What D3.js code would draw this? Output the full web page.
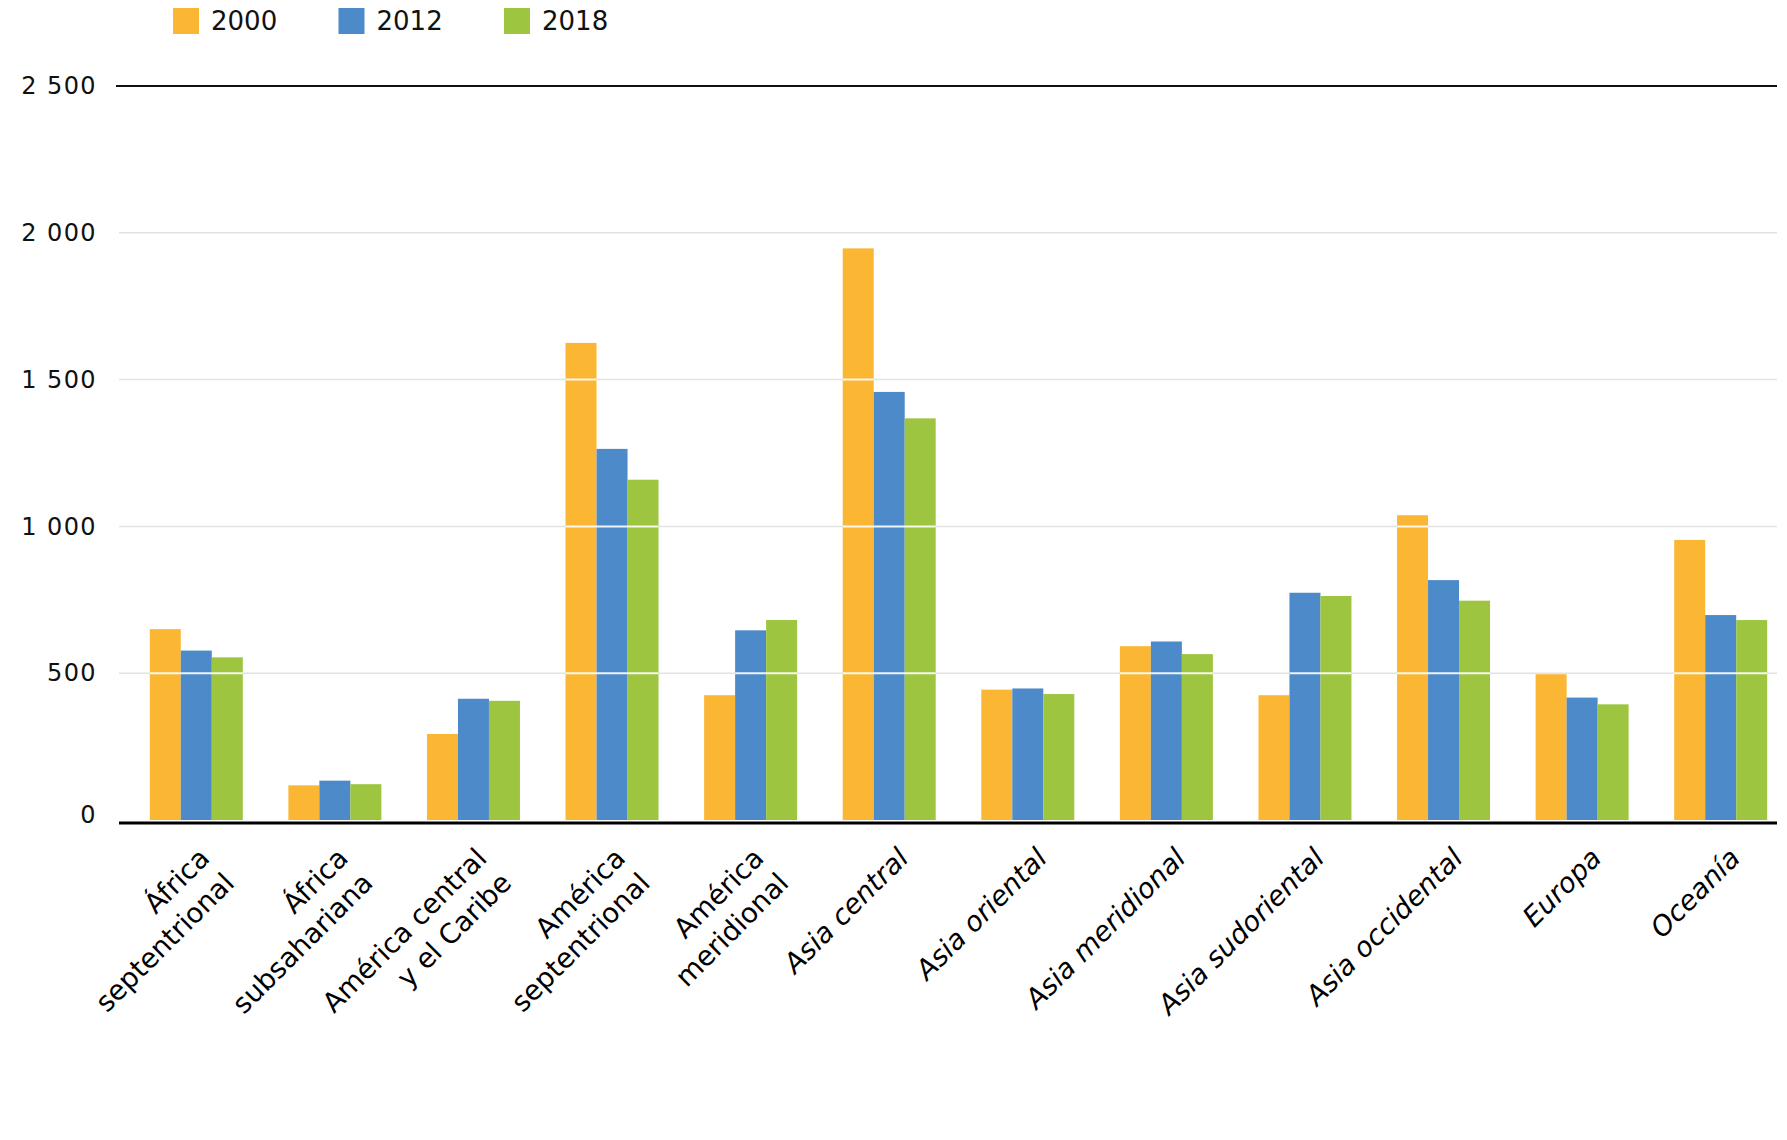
<!DOCTYPE html>
<html>
<head>
<meta charset="utf-8">
<script src="https://cdn.jsdelivr.net/npm/d3@7"></script>
<style>
  html, body { margin: 0; padding: 0; background: #fff; }
  svg { display: block; }
</style>
</head>
<body>
<svg id="chart" width="1787" height="1140"></svg>
<script>
// ---- data ----
const categories = [
  "África\nseptentrional",
  "África\nsubsahariana",
  "América central\ny el Caribe",
  "América\nseptentrional",
  "América\nmeridional",
  "Asia central",
  "Asia oriental",
  "Asia meridional",
  "Asia sudoriental",
  "Asia occidental",
  "Europa",
  "Oceanía"
];
const seriesNames = ["2000", "2012", "2018"];
const values2000 = [650, 118, 293, 1625, 425, 1947, 444, 592, 425, 1038, 499, 954];
const values2012 = [577, 134, 413, 1264, 646, 1458, 448, 608, 774, 817, 417, 698];
const values2018 = [554, 122, 406, 1159, 681, 1368, 429, 565, 763, 747, 394, 681];
const yTicks = [0, 500, 1000, 1500, 2000, 2500];
const italicCategories = ["Asia central", "Asia oriental", "Asia meridional", "Asia sudoriental", "Asia occidental", "Europa", "Oceanía"];

const colors = ["#FBB734", "#4C8ACA", "#9DC540"];
const seriesValues = [values2000, values2012, values2018];

// ---- layout ----
const svg = d3.select("#chart");
const gridLeft = 119, gridRight = 1777;

const x = d3.scaleBand()
  .domain(categories)
  .range([127, 1790])
  .paddingInner(0.329)
  .paddingOuter(0.1645);

const x1 = d3.scaleBand()
  .domain(seriesNames)
  .range([0, x.bandwidth()]);

const y = d3.scaleLinear()
  .domain([0, 2500])
  .range([820, 86]);

const fmt = v => d3.format(",")(v).replace(/,/g, " ");
const innerTicks = yTicks.filter(t => t > 0 && t < 2500);

const barData = [];
categories.forEach((c, i) => seriesNames.forEach((s, j) => barData.push({ c, s, j, v: seriesValues[j][i] })));

// clip path made of bars (for white gridline segments over bars)
const defs = svg.append("defs");
defs.append("clipPath").attr("id", "barsClip")
  .selectAll("rect")
  .data(barData)
  .join("rect")
  .attr("x", d => x(d.c) + x1(d.s))
  .attr("width", x1.bandwidth())
  .attr("y", d => y(d.v))
  .attr("height", d => y(0) - y(d.v));

// gridlines (below bars)
svg.append("g").selectAll("line")
  .data(innerTicks)
  .join("line")
  .attr("x1", gridLeft).attr("x2", gridRight)
  .attr("y1", d => y(d)).attr("y2", d => y(d))
  .attr("stroke", "#e2e2e2").attr("stroke-width", 1.5);

// bars
svg.append("g").selectAll("rect")
  .data(barData)
  .join("rect")
  .attr("x", d => x(d.c) + x1(d.s))
  .attr("width", x1.bandwidth())
  .attr("y", d => y(d.v))
  .attr("height", d => y(0) - y(d.v))
  .attr("fill", d => colors[d.j]);

// gridline segments over bars (white)
svg.append("g").attr("clip-path", "url(#barsClip)")
  .selectAll("line")
  .data(innerTicks)
  .join("line")
  .attr("x1", gridLeft).attr("x2", gridRight)
  .attr("y1", d => y(d)).attr("y2", d => y(d))
  .attr("stroke", "#ffffff").attr("stroke-opacity", 0.9).attr("stroke-width", 2);

// top line at 2500
svg.append("line")
  .attr("x1", 116).attr("x2", gridRight)
  .attr("y1", y(2500)).attr("y2", y(2500))
  .attr("stroke", "#111").attr("stroke-width", 2.2);

// baseline
svg.append("line")
  .attr("x1", gridLeft).attr("x2", gridRight)
  .attr("y1", y(0) + 3).attr("y2", y(0) + 3)
  .attr("stroke", "#000").attr("stroke-width", 3);

// y axis labels
const yAxis = d3.axisLeft(y).tickValues(yTicks).tickFormat(fmt).tickSize(0).tickPadding(0);
const yg = svg.append("g").attr("transform", "translate(97,0)").call(yAxis);
yg.select(".domain").remove();
yg.selectAll("text")
  .attr("font-family", "'DejaVu Sans', sans-serif")
  .attr("font-size", 24)
  .attr("letter-spacing", "1.4px")
  .attr("fill", "#111")
  .attr("transform", d => d === 0 ? "translate(0,-5)" : null);

// x axis labels (rotated -45)
const lineH = 35;
const xl = svg.append("g").selectAll("g")
  .data(categories)
  .join("g")
  .attr("transform", d => {
    const n = d.split("\n").length;
    const it = italicCategories.includes(d);
    const cx = x(d) + x.bandwidth() / 2;
    return `translate(${cx + 11 - (n - 1) * 11 - (it ? 5 : 0)},845) rotate(-45)`;
  });
xl.each(function(d) {
  const lines = d.split("\n");
  const t = d3.select(this).append("text")
    .attr("text-anchor", "end")
    .attr("font-family", "'DejaVu Sans', Verdana, sans-serif")
    .attr("font-size", 27.5)
    .attr("font-style", italicCategories.includes(d) ? "italic" : "normal")
    .attr("fill", "#000");
  lines.forEach((ln, i) => {
    t.append("tspan").attr("x", 0).attr("y", 21 + i * lineH).text(ln);
  });
});

// legend
const legend = svg.append("g").selectAll("g")
  .data(seriesNames)
  .join("g")
  .attr("transform", (d, i) => `translate(${173 + i * 165.5},8)`);
legend.append("rect")
  .attr("width", 26).attr("height", 26)
  .attr("fill", (d, i) => colors[i]);
legend.append("text")
  .attr("x", 38).attr("y", 22)
  .attr("font-family", "'DejaVu Sans', Verdana, sans-serif")
  .attr("font-size", 26)
  .attr("fill", "#111")
  .text(d => d);
</script>
</body>
</html>
